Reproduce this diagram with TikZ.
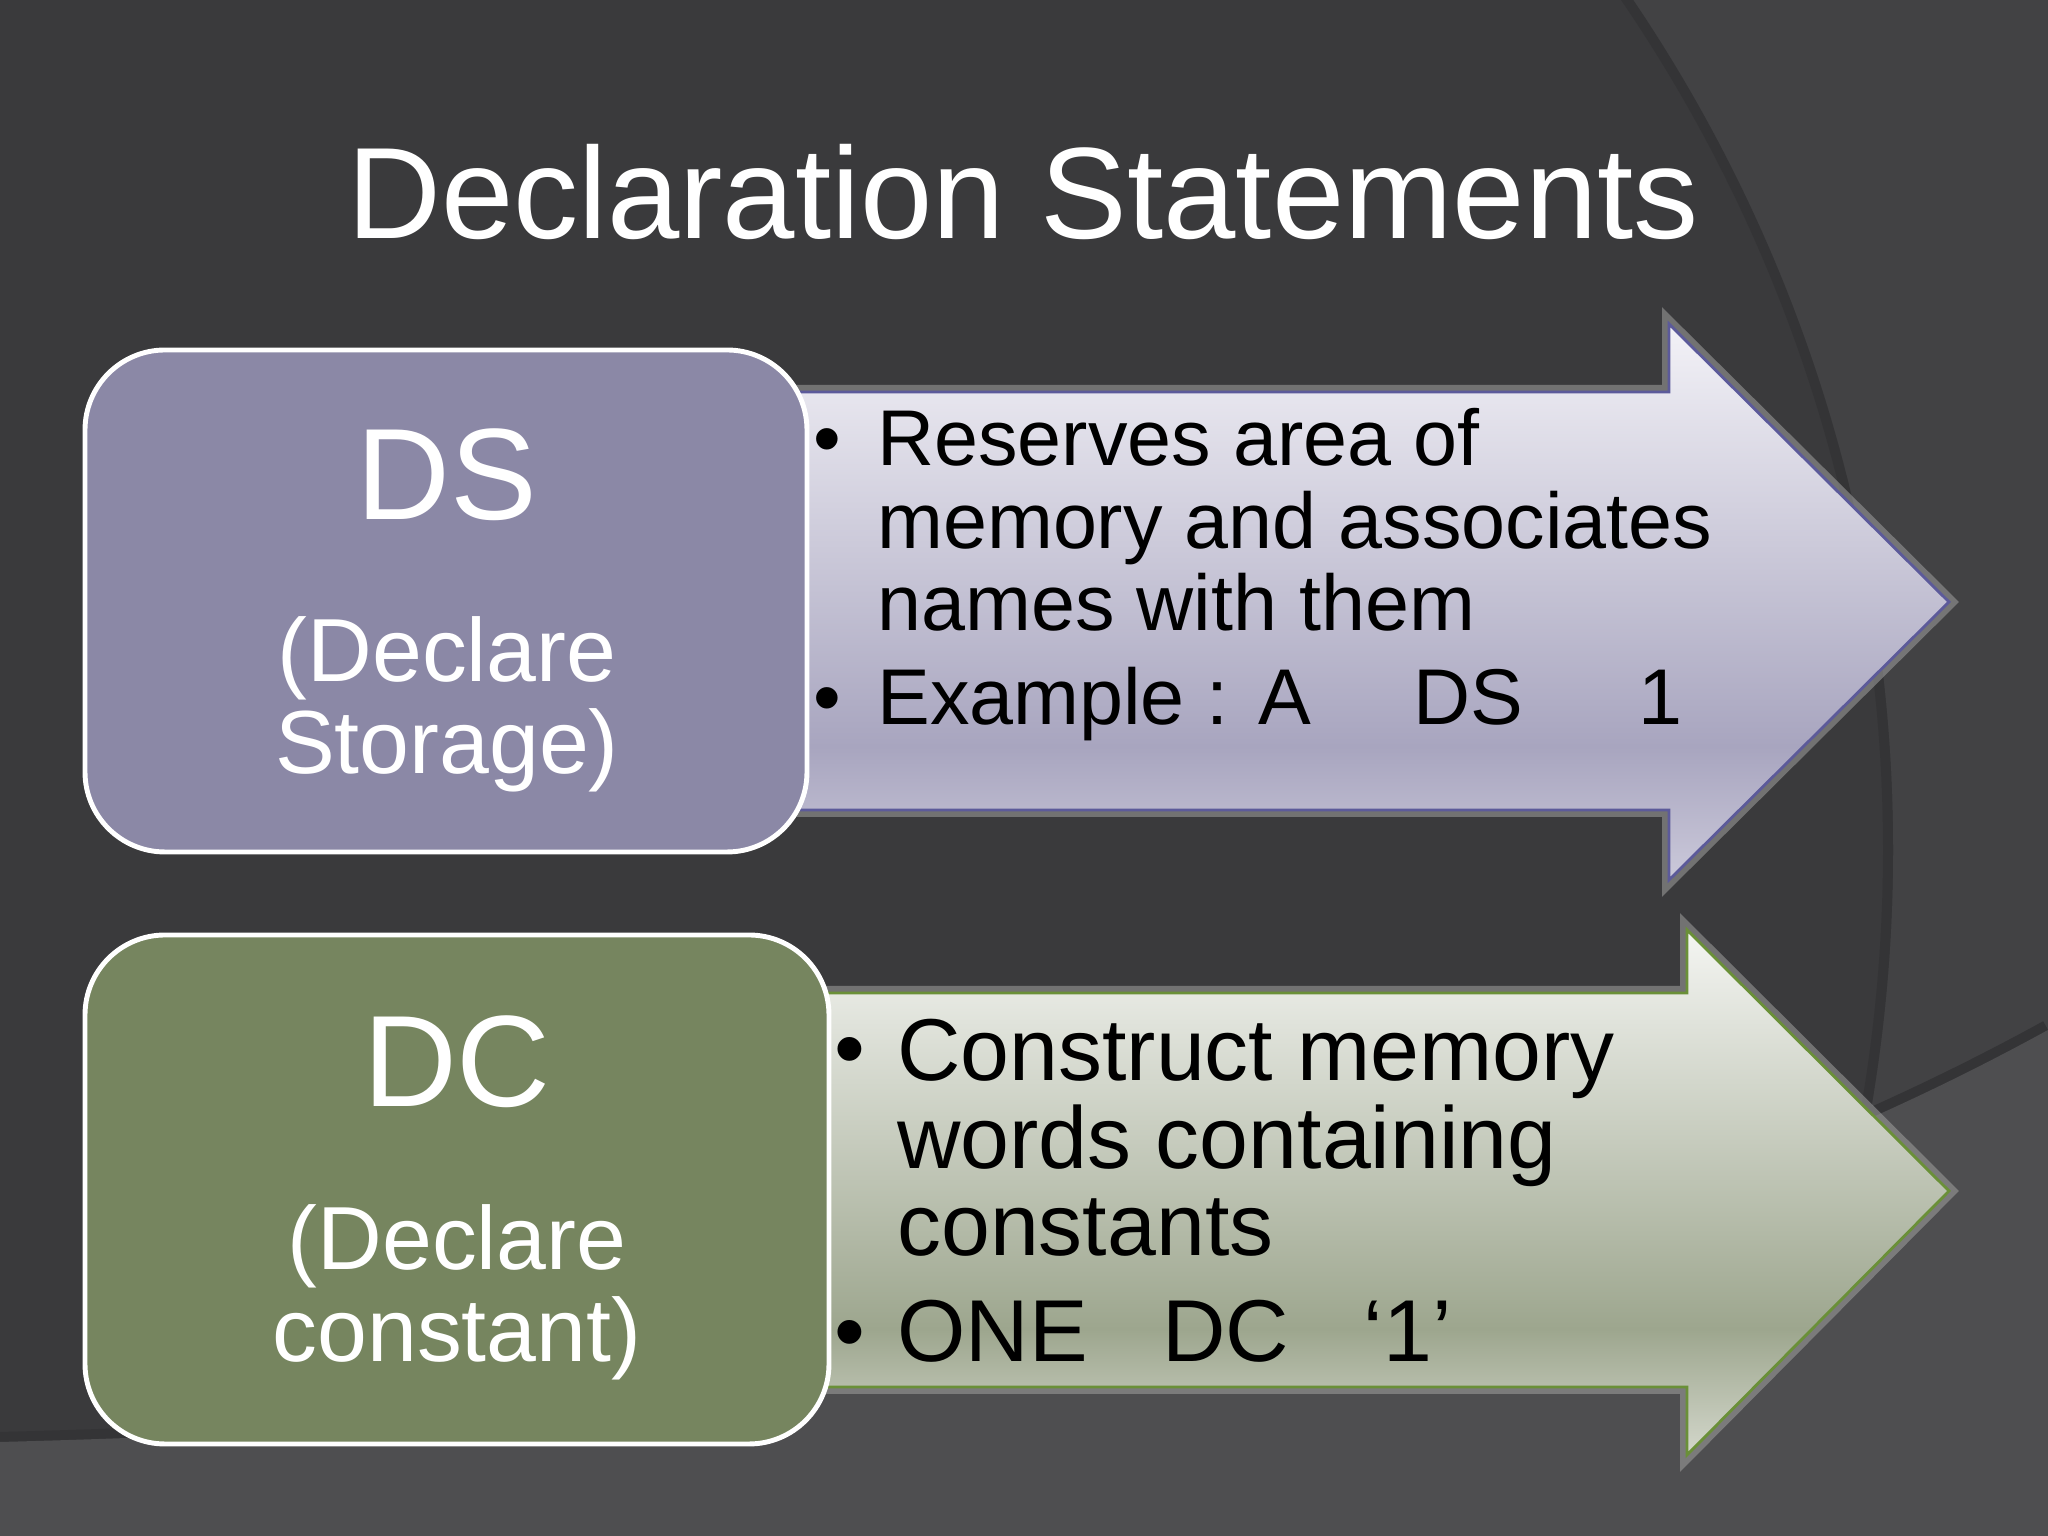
\documentclass[tikz,border=0pt]{standalone}
\usepackage{fontspec}
\setmainfont{Liberation Sans}
\usetikzlibrary{positioning,calc}
\tikzset{every picture/.style={line width=0.75pt}}

\definecolor{bgdark}{HTML}{3A3A3C}
\definecolor{bglight}{HTML}{424244}
\definecolor{bgbottom}{HTML}{4E4E50}
\definecolor{bgshadow}{HTML}{343436}
\definecolor{dsfill}{HTML}{8B88A6}
\definecolor{dcfill}{HTML}{76855F}
\definecolor{dsedge}{HTML}{5C5A9A}
\definecolor{dcedge}{HTML}{6A9038}
\definecolor{dstop}{HTML}{F3F2F7}
\definecolor{dsdeep}{HTML}{A8A5BF}
\definecolor{dslow}{HTML}{CBC9DA}
\definecolor{dctop}{HTML}{F4F5F2}
\definecolor{dcdeep}{HTML}{9DA68E}
\definecolor{dclow}{HTML}{D3D7CB}
\definecolor{halo}{HTML}{A0A0A0}

\pgfdeclareverticalshading{dsshade}{100bp}{color(0bp)=(dslow); color(25bp)=(dslow); color(37bp)=(dsdeep); color(75bp)=(dstop); color(100bp)=(dstop)}
\pgfdeclareverticalshading{dcshade}{100bp}{color(0bp)=(dclow); color(25bp)=(dclow); color(37bp)=(dcdeep); color(75bp)=(dctop); color(100bp)=(dctop)}

\tikzset{
  glow/.style={draw=halo, line width=0.14cm, opacity=0.55, line join=miter},
  boxhead/.style={text=white, font=\fontsize{37}{40}\selectfont, anchor=base, inner sep=0pt},
  boxsub/.style={text=white, font=\fontsize{25.5}{26.3}\selectfont, align=center, anchor=base, inner sep=0pt},
  dstext/.style={font=\fontsize{22.5}{23.5}\selectfont, align=left, anchor=base west, inner sep=0pt},
  dctext/.style={font=\fontsize{25}{25}\selectfont, align=left, anchor=base west, inner sep=0pt},
  dsbul/.style={font=\fontsize{22.5}{23.5}\selectfont, anchor=base, inner sep=0pt},
  dcbul/.style={font=\fontsize{25}{25}\selectfont, anchor=base, inner sep=0pt},
  rbox/.style={draw=white, line width=1.4pt, rounded corners=0.8cm, inner sep=0pt}
}

\begin{document}
\begin{tikzpicture}
    \useasboundingbox (0,0) rectangle (20.48,15.36);
    % background
    \begin{scope}
        \clip (0,0) rectangle (20.48,15.36);
        \fill[bglight] (0,0) rectangle (20.48,15.36);
        \fill[bgdark] (3.74,6.86) circle (15.19);
        \draw[bgshadow, line width=0.1cm] (3.74,6.86) circle (15.14);
        \draw[bgshadow, line width=0.2cm] (0,0.94) .. controls (10,1.2) and (16,2.6) .. (20.48,5.06);
        \fill[bgbottom] (0,0.94) .. controls (10,1.2) and (16,2.6) .. (20.48,5.06) -- (20.48,0) -- (0,0) -- cycle;
    \end{scope}
    % title
    \node[text=white, font=\fontsize{37}{40}\selectfont, anchor=base, inner sep=0pt] (title) at (10.23,12.97) {Declaration Statements};
    % DS arrow
    \draw[glow] (7.4,11.44) -- (16.69,11.44) -- (16.69,12.12) -- (19.49,9.34) -- (16.69,6.56) -- (16.69,7.26) -- (7.4,7.26) -- cycle;
    \draw[draw=dsedge, line width=0.8pt, shading=dsshade] (7.4,11.44) -- (16.69,11.44) -- (16.69,12.12) -- (19.49,9.34) -- (16.69,6.56) -- (16.69,7.26) -- (7.4,7.26) -- cycle;
    % DC arrow
    \draw[glow] (7.6,5.43) -- (16.87,5.43) -- (16.87,6.06) -- (19.49,3.45) -- (16.87,0.81) -- (16.87,1.49) -- (7.6,1.49) -- cycle;
    \draw[draw=dcedge, line width=0.8pt, shading=dcshade] (7.6,5.43) -- (16.87,5.43) -- (16.87,6.06) -- (19.49,3.45) -- (16.87,0.81) -- (16.87,1.49) -- (7.6,1.49) -- cycle;
    % boxes
    \node[rbox, fill=dsfill, minimum width=7.22cm, minimum height=5.02cm] (dsbox) at (4.46,9.35) {};
    \node[rbox, fill=dcfill, minimum width=7.44cm, minimum height=5.09cm] (dcbox) at (4.57,3.465) {};
    \node[boxhead] (dsname) at (4.47,10.16) {DS};
    \node[boxsub] (dslong) at (4.47,7.62) {(Declare\\Storage)};
    \node[boxhead] (dcname) at (4.57,4.29) {DC};
    \node[boxsub] (dclong) at (4.57,1.74) {(Declare\\constant)};
    % DS bullets
    \node[dsbul] (dsb1) at (8.27,10.70) {•};
    \node[dstext] (dsi1) at (8.76,9.05) {Reserves area of\\memory and associates\\names with them};
    \node[dsbul] (dsb2) at (8.27,8.11) {•};
    \node[dstext] (dsi2) at (8.76,8.11) {Example : A\hspace{1.3em}DS\hspace{1.45em}1};
    % DC bullets
    \node[dcbul] (dcb1) at (8.50,4.57) {•};
    \node[dctext] (dci1) at (8.96,2.80) {Construct memory\\words containing\\constants};
    \node[dcbul] (dcb2) at (8.50,1.74) {•};
    \node[dctext] (dci2) at (8.96,1.74) {ONE\hspace{0.85em}DC\hspace{0.85em}‘1’};
\end{tikzpicture}
\end{document}
